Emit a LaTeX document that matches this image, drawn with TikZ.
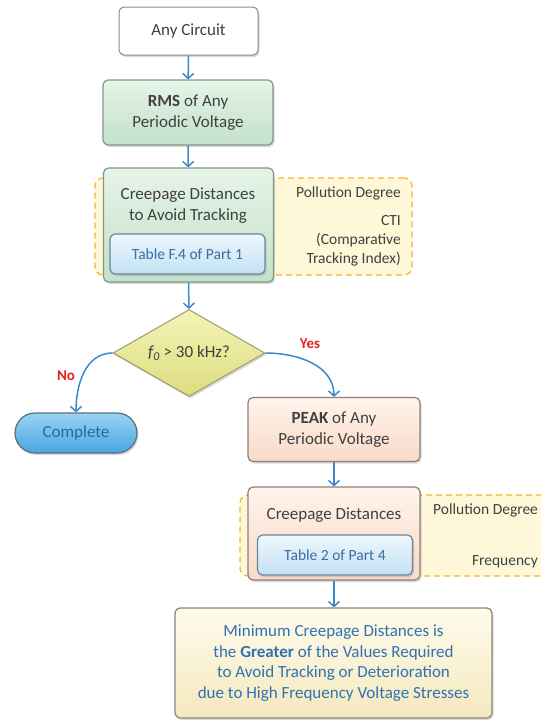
\documentclass[tikz,border=0pt]{standalone}
\usepackage{fontspec}
\setmainfont{Carlito}
\usetikzlibrary{arrows.meta,positioning,shapes.geometric,shadows}
\definecolor{ink}{HTML}{404040}
\definecolor{edgegray}{HTML}{8A8A8A}
\definecolor{greenA}{HTML}{E6F4E8}
\definecolor{greenB}{HTML}{C3E1CA}
\definecolor{greenedge}{HTML}{7E9A84}
\definecolor{blueA}{HTML}{EEF7FD}
\definecolor{blueB}{HTML}{C2E1F4}
\definecolor{blueedge}{HTML}{6F8696}
\definecolor{tabtext}{HTML}{3A6EA5}
\definecolor{peachA}{HTML}{FFF4EC}
\definecolor{peachB}{HTML}{F8DAC7}
\definecolor{peachedge}{HTML}{8E7F78}
\definecolor{creamA}{HTML}{FFFCEC}
\definecolor{creamB}{HTML}{F4E8BE}
\definecolor{creamedge}{HTML}{8A857A}
\definecolor{finaltext}{HTML}{2F72B3}
\definecolor{diamA}{HTML}{F4F4B8}
\definecolor{diamB}{HTML}{DCDC7E}
\definecolor{diamedge}{HTML}{9A9A6A}
\definecolor{doneA}{HTML}{9AD3F5}
\definecolor{doneB}{HTML}{49A5DF}
\definecolor{doneedge}{HTML}{5B6E7E}
\definecolor{donetext}{HTML}{2C68A0}
\definecolor{panelfill}{HTML}{FEF8D8}
\definecolor{paneldash}{HTML}{F5B42E}
\definecolor{flow}{HTML}{3D87CC}
\definecolor{answer}{HTML}{E32119}

\begin{document}
\begin{tikzpicture}[x=1pt,y=-1pt,>={Straight Barb[length=5pt,width=11pt]},
  font=\fontsize{17}{21}\selectfont, text=ink]
 \tikzstyle{box}=[rectangle,rounded corners=5pt,line width=1.2pt,align=center,inner sep=0pt,
   drop shadow={shadow xshift=1.5pt,shadow yshift=-2pt,opacity=0.3}]
 \tikzstyle{startnode}=[box,draw=edgegray,fill=white,line width=1pt,minimum width=139pt,minimum height=48pt]
 \tikzstyle{rmsnode}=[box,draw=greenedge,top color=greenA,bottom color=greenB,minimum width=170pt,minimum height=65pt]
 \tikzstyle{creepnode}=[box,draw=greenedge,top color=greenA,bottom color=greenB,minimum width=170pt,minimum height=114pt]
 \tikzstyle{peaknode}=[box,draw=peachedge,top color=peachA,bottom color=peachB,minimum width=172pt,minimum height=64pt]
 \tikzstyle{creeptwonode}=[box,draw=peachedge,top color=peachA,bottom color=peachB,minimum width=172pt,minimum height=93pt]
 \tikzstyle{tablenode}=[box,draw=blueedge,top color=blueA,bottom color=blueB,minimum width=155pt,minimum height=40pt,
   text=tabtext,font=\fontsize{15.5}{19}\selectfont]
 \tikzstyle{finalnode}=[box,draw=creamedge,top color=creamA,bottom color=creamB,minimum width=317pt,minimum height=110pt,
   text=finaltext,font=\fontsize{17}{20.7}\selectfont]
 \tikzstyle{decide}=[diamond,aspect=1.75,draw=diamedge,line width=1pt,top color=diamA,bottom color=diamB,
   minimum width=152pt,minimum height=87pt,inner sep=0pt,
   drop shadow={shadow xshift=1.5pt,shadow yshift=-2pt,opacity=0.3}]
 \tikzstyle{donenode}=[box,rounded corners=20pt,draw=doneedge,top color=doneA,bottom color=doneB,
   minimum width=122pt,minimum height=40pt,text=donetext]
 \tikzstyle{panel}=[rectangle,rounded corners=8pt,draw=paneldash,fill=panelfill,line width=1.3pt,
   dash pattern=on 6pt off 4pt,inner sep=0pt]
 \tikzstyle{side}=[font=\fontsize{15.5}{19}\selectfont,align=right,inner sep=0pt]
 \tikzstyle{lbl}=[font=\fontsize{15}{18}\selectfont\bfseries,text=answer,inner sep=0pt]
 \tikzstyle{flowline}=[->,flow,line width=1.5pt]
 \useasboundingbox (0,0) rectangle (541,721);
 \clip (0,0) rectangle (541,721);
 % side panels
 \node[panel,minimum width=317pt,minimum height=97pt] (pan1) at (253.5,226.5) {};
 \node[panel,minimum width=360pt,minimum height=81pt] (pan2) at (420,535.5) {};
 \node[side,anchor=east] (pd1) at (401,193) {Pollution Degree};
 \node[side,anchor=east] (cti) at (401,241) {CTI\\(Comparative\\Tracking Index)};
 \node[side,anchor=west] (pd2) at (433,510) {Pollution Degree};
 \node[side,anchor=east] (freq) at (538,562) {Frequency};
 % main column
 \node[startnode] (start) at (188.5,31) {Any Circuit};
 \node[rmsnode] (rms) at (188,112.5) {\textbf{RMS} of Any\\Periodic Voltage};
 \node[creepnode] (creep) at (188.5,225) {};
 \node[align=center,inner sep=0pt] (creeptxt) at (188,206) {Creepage Distances\\to Avoid Tracking};
 \node[tablenode] (tabf) at (187.5,254) {Table F.4 of Part 1};
 \node[decide] (freqq) at (189,353) {\textit{f\textsubscript{0}} > 30 kHz?};
 \node[donenode] (done) at (76,433) {Complete};
 \node[peaknode] (peak) at (334,429.5) {\textbf{PEAK} of Any\\Periodic Voltage};
 \node[creeptwonode] (creeptwo) at (334,533.5) {};
 \node[inner sep=0pt] (creeptwotxt) at (334,515) {Creepage Distances};
 \node[tablenode] (tabtwo) at (335,555) {Table 2 of Part 4};
 \node[finalnode] (final) at (333.5,663) {Minimum Creepage Distances is\\the \textbf{Greater} of the Values Required\\to Avoid Tracking or Deterioration\\due to High Frequency Voltage Stresses};
 % branch labels
 \node[lbl] (no) at (66,376) {No};
 \node[lbl] (yes) at (310,344) {Yes};
 % connectors
 \draw[flowline] (start) -- (rms);
 \draw[flowline] (rms) -- (creep);
 \draw[flowline] (creep.south) -- (freqq.north);
 \draw[flowline] (freqq.west) to[out=180,in=90] (done.north);
 \draw[flowline] (freqq.east) to[out=0,in=90] (peak.north);
 \draw[flowline] (peak) -- (creeptwo);
 \draw[flowline] (creeptwo.south) -- (creeptwo.south |- final.north);
\end{tikzpicture}
\end{document}
